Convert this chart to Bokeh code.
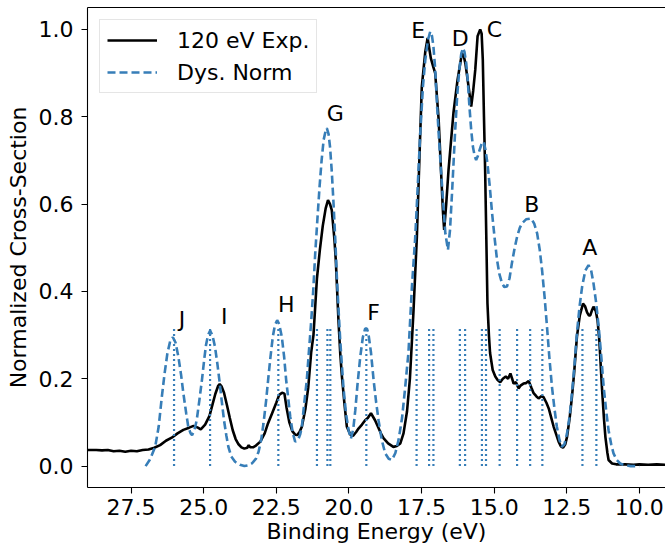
from bokeh.plotting import figure
from bokeh.models import Range1d, FixedTicker, PrintfTickFormatter, LinearAxis, Legend, LegendItem
from bokeh.core.properties import value
from bokeh.embed import file_html
from bokeh.resources import INLINE

# Experimental spectrum (120 eV)
exp_x = [29.0, 28.7, 28.5, 28.3, 28.1, 27.9, 27.7, 27.5, 27.3, 27.1, 26.9, 26.7, 26.5, 26.3, 26.1, 25.9,
         25.7, 25.5, 25.35, 25.2, 25.1, 24.95, 24.8, 24.7, 24.6, 24.5, 24.45, 24.38, 24.3, 24.2, 24.1, 24.0,
         23.9, 23.8, 23.7, 23.6, 23.5, 23.45, 23.4, 23.3, 23.2, 23.05, 22.9, 22.8, 22.65, 22.5, 22.4, 22.3,
         22.22, 22.15, 22.05, 21.95, 21.85, 21.78, 21.7, 21.62, 21.5, 21.4, 21.3, 21.22, 21.1, 21.0, 20.9,
         20.8, 20.72, 20.65, 20.59, 20.5, 20.45, 20.36, 20.3, 20.24, 20.15, 20.07, 19.95, 19.86, 19.75,
         19.67, 19.55, 19.44, 19.35, 19.24, 19.17, 19.1, 19.0, 18.9, 18.81, 18.65, 18.47, 18.35, 18.23,
         18.12, 18.0, 17.9, 17.78, 17.66, 17.55, 17.49, 17.37, 17.29, 17.18, 17.1, 17.03, 16.91, 16.83,
         16.76, 16.72, 16.65, 16.57, 16.4, 16.26, 16.11, 16.05, 15.99, 15.88, 15.79, 15.72, 15.65, 15.57,
         15.48, 15.43, 15.39, 15.35, 15.31, 15.23, 15.18, 15.14, 15.05, 14.96, 14.88, 14.79, 14.7, 14.6,
         14.52, 14.44, 14.38, 14.33, 14.25, 14.16, 14.08, 13.99, 13.9, 13.81, 13.72, 13.64, 13.55, 13.47,
         13.38, 13.3, 13.2, 13.12, 13.03, 12.95, 12.86, 12.78, 12.7, 12.63, 12.55, 12.49, 12.4, 12.32,
         12.25, 12.15, 12.05, 11.94, 11.87, 11.8, 11.74, 11.69, 11.63, 11.58, 11.5, 11.44, 11.38, 11.29,
         11.22, 11.17, 11.1, 11.06, 10.94, 10.8, 10.5, 10.2, 10.0, 9.7, 9.4, 9.1, 9.0]
exp_y = [0.037, 0.037, 0.036, 0.037, 0.034, 0.035, 0.033, 0.035, 0.034, 0.037, 0.038, 0.042, 0.048, 0.058,
         0.065, 0.075, 0.083, 0.088, 0.092, 0.088, 0.084, 0.095, 0.115, 0.14, 0.165, 0.184, 0.188, 0.182,
         0.168, 0.14, 0.11, 0.082, 0.062, 0.05, 0.043, 0.04, 0.042, 0.048, 0.043, 0.043, 0.047, 0.056,
         0.075, 0.095, 0.12, 0.145, 0.163, 0.168, 0.166, 0.135, 0.1, 0.08, 0.072, 0.071, 0.078, 0.09,
         0.13, 0.18, 0.26, 0.3, 0.43, 0.495, 0.55, 0.59, 0.609, 0.6, 0.586, 0.52, 0.47, 0.334, 0.26, 0.205,
         0.14, 0.09, 0.072, 0.069, 0.078, 0.086, 0.095, 0.105, 0.11, 0.121, 0.113, 0.105, 0.09, 0.075,
         0.064, 0.052, 0.044, 0.046, 0.052, 0.075, 0.125, 0.2, 0.35, 0.525, 0.75, 0.869, 0.949, 0.98,
         0.934, 0.915, 0.9, 0.793, 0.678, 0.58, 0.541, 0.6, 0.678, 0.809, 0.884, 0.945, 0.94, 0.922,
         0.869, 0.823, 0.86, 0.907, 0.984, 1.0, 0.99, 0.93, 0.8, 0.678, 0.373, 0.3, 0.259, 0.22, 0.205,
         0.197, 0.192, 0.2, 0.205, 0.2, 0.212, 0.2, 0.189, 0.192, 0.178, 0.185, 0.189, 0.19, 0.195, 0.18,
         0.167, 0.16, 0.155, 0.16, 0.158, 0.145, 0.132, 0.11, 0.09, 0.072, 0.056, 0.045, 0.042, 0.05,
         0.067, 0.11, 0.159, 0.21, 0.296, 0.345, 0.372, 0.366, 0.352, 0.345, 0.345, 0.357, 0.365, 0.355,
         0.334, 0.29, 0.182, 0.11, 0.067, 0.03, 0.014, 0.006, 0.004, 0.004, 0.003, 0.004, 0.003, 0.004,
         0.003, 0.003]

# Dyson-norm broadened spectrum
dys_x = [27.0, 26.85, 26.67, 26.55, 26.44, 26.35, 26.25, 26.15, 26.06, 25.97, 25.87, 25.78, 25.7, 25.6,
         25.53, 25.45, 25.4, 25.32, 25.24, 25.15, 25.06, 24.98, 24.92, 24.85, 24.78, 24.7, 24.61, 24.53,
         24.46, 24.38, 24.3, 24.22, 24.15, 24.05, 23.92, 23.75, 23.6, 23.45, 23.34, 23.2, 23.11, 23.02,
         22.94, 22.85, 22.77, 22.7, 22.62, 22.55, 22.47, 22.4, 22.31, 22.23, 22.16, 22.08, 22.02, 21.93,
         21.85, 21.75, 21.68, 21.62, 21.56, 21.45, 21.38, 21.3, 21.23, 21.16, 21.08, 21.01, 20.94, 20.87,
         20.8, 20.76, 20.7, 20.65, 20.59, 20.53, 20.47, 20.41, 20.35, 20.3, 20.24, 20.19, 20.1, 20.01,
         19.93, 19.85, 19.78, 19.7, 19.61, 19.52, 19.44, 19.38, 19.33, 19.24, 19.15, 19.06, 18.98, 18.87,
         18.75, 18.63, 18.52, 18.4, 18.29, 18.17, 18.06, 17.95, 17.83, 17.72, 17.66, 17.55, 17.45, 17.37,
         17.28, 17.2, 17.14, 17.09, 17.03, 16.97, 16.9, 16.83, 16.75, 16.68, 16.59, 16.52, 16.45, 16.34,
         16.27, 16.2, 16.13, 16.07, 16.02, 15.96, 15.9, 15.85, 15.79, 15.73, 15.67, 15.62, 15.56, 15.5,
         15.43, 15.36, 15.3, 15.23, 15.15, 15.07, 14.98, 14.9, 14.82, 14.73, 14.65, 14.56, 14.47, 14.39,
         14.3, 14.21, 14.12, 14.04, 13.9, 13.72, 13.62, 13.52, 13.43, 13.35, 13.26, 13.18, 13.1, 13.01,
         12.92, 12.84, 12.75, 12.67, 12.58, 12.49, 12.4, 12.32, 12.23, 12.15, 12.06, 11.97, 11.86, 11.75,
         11.66, 11.58, 11.49, 11.4, 11.31, 11.23, 11.14, 11.06, 10.97, 10.89, 10.78, 10.66, 10.5, 10.3,
         10.0]
dys_y = [0.0, 0.015, 0.044, 0.09, 0.159, 0.21, 0.258, 0.287, 0.295, 0.283, 0.25, 0.21, 0.167, 0.12, 0.09,
         0.075, 0.071, 0.082, 0.105, 0.15, 0.197, 0.245, 0.277, 0.3, 0.31, 0.3, 0.273, 0.235, 0.197, 0.15,
         0.105, 0.07, 0.044, 0.022, 0.01, 0.003, 0.0, 0.002, 0.006, 0.017, 0.033, 0.06, 0.098, 0.15, 0.205,
         0.25, 0.296, 0.322, 0.334, 0.325, 0.296, 0.25, 0.197, 0.15, 0.113, 0.075, 0.056, 0.06, 0.072,
         0.09, 0.13, 0.197, 0.26, 0.33, 0.4, 0.487, 0.57, 0.64, 0.7, 0.747, 0.768, 0.774, 0.76, 0.731,
         0.675, 0.602, 0.52, 0.426, 0.35, 0.289, 0.23, 0.182, 0.12, 0.082, 0.063, 0.085, 0.128, 0.19, 0.25,
         0.295, 0.315, 0.315, 0.304, 0.26, 0.197, 0.145, 0.105, 0.06, 0.029, 0.017, 0.014, 0.03, 0.06, 0.11,
         0.182, 0.26, 0.411, 0.52, 0.6, 0.754, 0.87, 0.93, 0.975, 0.995, 0.985, 0.961, 0.91, 0.831, 0.75,
         0.678, 0.6, 0.533, 0.495, 0.54, 0.625, 0.77, 0.85, 0.907, 0.945, 0.957, 0.948, 0.922, 0.875,
         0.823, 0.77, 0.731, 0.71, 0.701, 0.71, 0.724, 0.738, 0.743, 0.725, 0.693, 0.64, 0.579, 0.52,
         0.472, 0.44, 0.419, 0.41, 0.411, 0.43, 0.464, 0.497, 0.525, 0.545, 0.556, 0.565, 0.567, 0.555,
         0.533, 0.495, 0.449, 0.385, 0.319, 0.25, 0.182, 0.13, 0.09, 0.06, 0.044, 0.05, 0.075, 0.115,
         0.167, 0.235, 0.304, 0.365, 0.411, 0.448, 0.46, 0.448, 0.419, 0.375, 0.319, 0.25, 0.182, 0.125,
         0.082, 0.05, 0.029, 0.014, 0.006, 0.002, 0.0, 0.0]

# Stick positions (eV) and heights
stick_x = [26.02, 24.78, 22.43, 21.1, 20.74, 20.64, 19.40, 17.67, 17.24, 17.09, 16.18, 16.00,
           15.42, 15.28, 14.81, 14.21, 13.76, 13.34, 11.96, 11.48]
stick_h = [0.32] * len(stick_x)

# Peak labels
lab_text = ["J", "I", "H", "G", "F", "E", "D", "C", "B", "A"]
lab_x = [25.75, 24.29, 22.16, 20.47, 19.15, 17.61, 16.17, 14.99, 13.70, 11.71]
lab_y = [0.336, 0.342, 0.369, 0.808, 0.351, 0.998, 0.980, 0.999, 0.600, 0.500]

x_ticks = [27.5, 25.0, 22.5, 20.0, 17.5, 15.0, 12.5, 10.0]
y_ticks = [0.0, 0.2, 0.4, 0.6, 0.8, 1.0]

FONT = "DejaVu Sans"
BLUE = "#377eb8"
FS = "22px"

p = figure(width=665, height=550, output_backend="svg", toolbar_location=None,
           x_range=Range1d(29.0, 9.1), y_range=Range1d(-0.049, 1.05),
           min_border_left=87, min_border_right=0, min_border_top=7, min_border_bottom=63)
p.outline_line_color = None
p.xgrid.visible = False
p.ygrid.visible = False
p.background_fill_color = "white"

r_exp = p.line(exp_x, exp_y, line_color="black", line_width=2.6)
r_dys = p.line(dys_x, dys_y, line_color=BLUE, line_width=2.6, line_dash="8 4")
p.segment(x0=stick_x, y0=[0] * len(stick_x), x1=stick_x, y1=stick_h,
          line_color=BLUE, line_width=2.2, line_dash="2 3")

p.text(x=lab_x, y=lab_y, text=lab_text, text_font=value(FONT), text_font_size=FS,
       text_align="center", text_baseline="middle", text_color="black")

for ax in (p.xaxis[0], p.yaxis[0]):
    ax.major_label_text_font = FONT
    ax.major_label_text_font_size = FS
    ax.major_label_text_color = "black"
    ax.axis_label_text_font = FONT
    ax.axis_label_text_font_size = FS
    ax.axis_label_text_font_style = "normal"
    ax.axis_label_text_color = "black"
    ax.axis_line_color = "black"
    ax.axis_line_width = 1.1
    ax.major_tick_line_color = "black"
    ax.major_tick_line_width = 1.1
    ax.major_tick_out = 6
    ax.major_tick_in = 0
    ax.minor_tick_line_color = None

p.xaxis[0].ticker = FixedTicker(ticks=x_ticks)
p.yaxis[0].ticker = FixedTicker(ticks=y_ticks)
p.xaxis[0].formatter = PrintfTickFormatter(format="%.1f")
p.yaxis[0].formatter = PrintfTickFormatter(format="%.1f")
p.xaxis[0].axis_label = "Binding Energy (eV)"
p.yaxis[0].axis_label = "Normalized Cross-Section"
p.xaxis[0].major_label_standoff = 5
p.xaxis[0].axis_label_standoff = 1
p.yaxis[0].major_label_standoff = 8
p.yaxis[0].axis_label_standoff = 5

top = LinearAxis(ticker=FixedTicker(ticks=[]), major_label_text_font_size="0px",
                 axis_line_color="black", axis_line_width=1.1, major_tick_line_color=None,
                 minor_tick_line_color=None)
p.add_layout(top, "above")

legend = Legend(items=[LegendItem(label="120 eV Exp.", renderers=[r_exp]),
                       LegendItem(label="Dys. Norm", renderers=[r_dys])],
                location="top_left", margin=12, padding=7, spacing=6,
                glyph_width=50, glyph_height=26, label_height=26, label_standoff=20,
                label_text_font=FONT, label_text_font_size=FS, label_text_color="black",
                border_line_color="#cccccc", border_line_width=1,
                background_fill_color="white", background_fill_alpha=0.8)
p.add_layout(legend)

open("out.html", "w").write(file_html(p, INLINE))
